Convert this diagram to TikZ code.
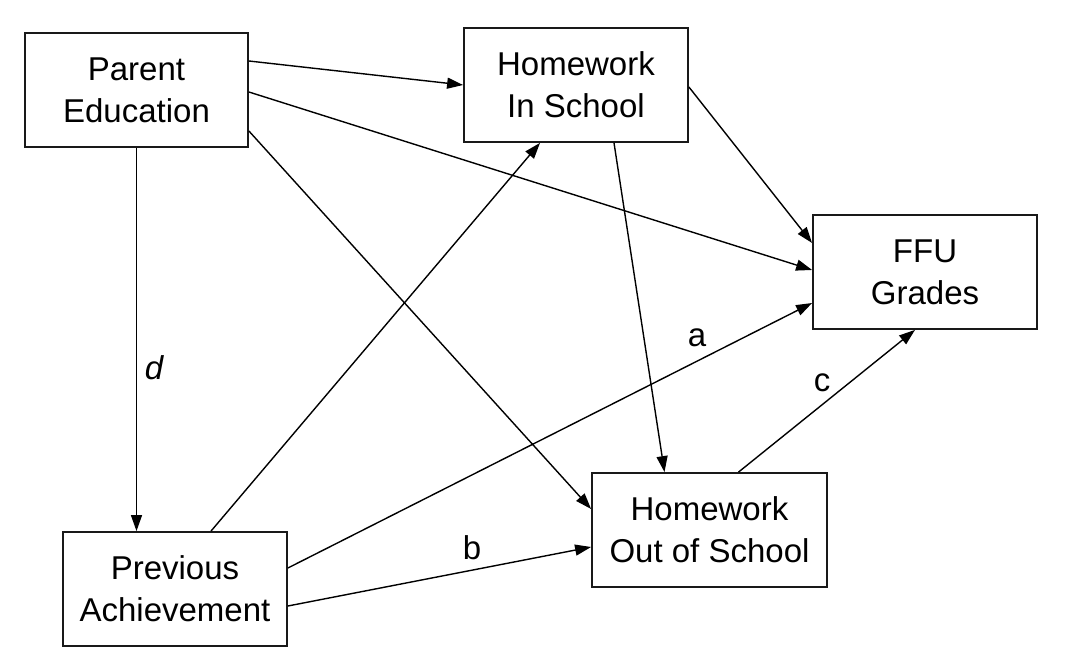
\documentclass[tikz,border=0pt]{standalone}
\usepackage{fontspec}
\setmainfont{Liberation Sans}
\usetikzlibrary{arrows.meta}
\begin{document}
\begin{tikzpicture}[x=1pt,y=-1pt,
  box/.style={draw=black!90,line width=1.8pt,fill=white,minimum height=114pt,inner sep=0pt,align=center,font=\fontsize{33}{42}\selectfont},
  conn/.style={line width=1.4pt,-{Triangle[length=16pt,width=11pt]}},
  lbl/.style={font=\fontsize{33}{42}\selectfont,inner sep=0pt}]
\useasboundingbox (0,0) rectangle (1074,660);
\node[box,minimum width=223pt] (pe) at (136.5,90) {Parent\\Education};
\node[box,minimum width=224pt] (his) at (576,85) {Homework\\In School};
\node[box,minimum width=224pt] (ffu) at (925,272) {FFU\\Grades};
\node[box,minimum width=224pt] (pa) at (175,589) {Previous\\Achievement};
\node[box,minimum width=235pt] (hos) at (709.5,530) {Homework\\Out of School};
\draw[conn] ([yshift=29pt]pe.east) -- (his.west);
\draw[conn] ([yshift=-2pt]pe.east) -- ([yshift=2pt]ffu.west);
\draw[conn] ([yshift=-41pt]pe.east) -- ([yshift=21pt]hos.west);
\draw[conn] (pe.south) -- (pe.south |- pa.north);
\draw[conn] ([xshift=36pt]pa.north) -- ([xshift=-36pt]his.south);
\draw[conn] ([yshift=21pt]pa.east) -- ([yshift=-31pt]ffu.west);
\draw[conn] ([yshift=-17pt]pa.east) -- ([yshift=-17pt]hos.west);
\draw[conn] ([xshift=38pt]his.south) -- ([xshift=-45pt]hos.north);
\draw[conn] ([yshift=-2pt]his.east) -- ([yshift=29pt]ffu.west);
\draw[conn] ([xshift=29pt]hos.north) -- ([xshift=-10pt]ffu.south);
\node[lbl,font=\fontsize{33}{42}\selectfont\itshape] (ld) at (154,368) {d};
\node[lbl] (la) at (697,338) {a};
\node[lbl] (lb) at (472,548) {b};
\node[lbl] (lc) at (822,383) {c};
\end{tikzpicture}
\end{document}
